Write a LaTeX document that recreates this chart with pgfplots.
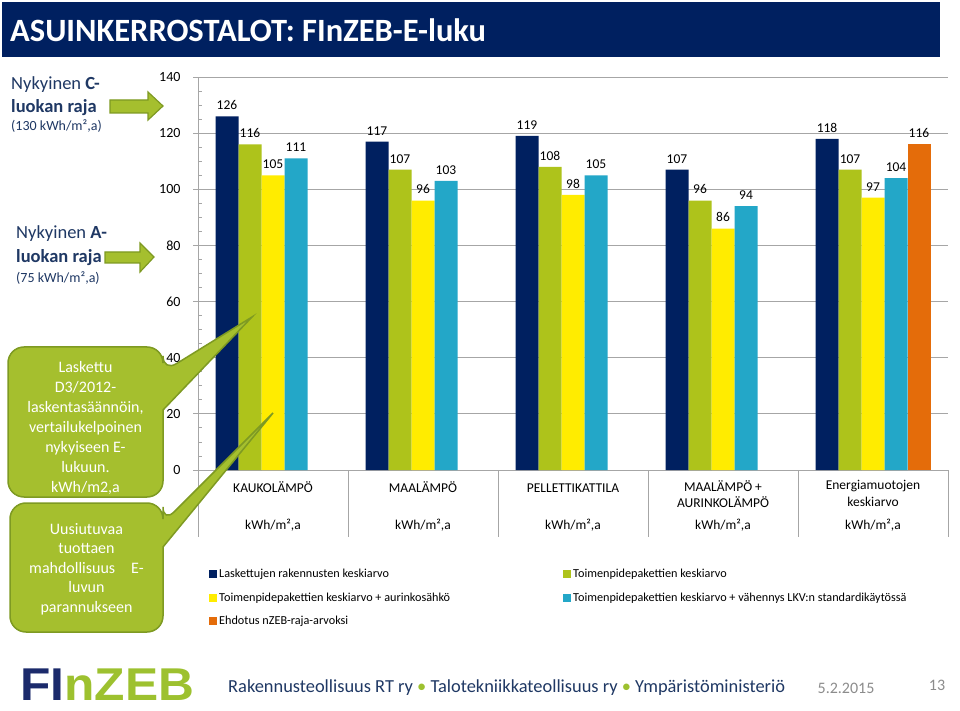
\documentclass[border=0pt]{standalone}
\usepackage{graphicx}
\usepackage{pgfplots}
\pgfplotsset{compat=1.18}
\usepackage{fontspec}
\setmainfont{Carlito}
\newfontfamily\logofont{Liberation Sans}
\definecolor{titlenavy}{HTML}{002060}
\definecolor{snavy}{HTML}{002060}
\definecolor{sgreen}{HTML}{AEC31B}
\definecolor{syellow}{HTML}{FFEC00}
\definecolor{sblue}{HTML}{23A7C8}
\definecolor{sorange}{HTML}{E46C0A}
\definecolor{txtnavy}{HTML}{1F3864}
\definecolor{callfill}{HTML}{A5BF2E}
\definecolor{callborder}{HTML}{7E9A22}
\definecolor{axisgray}{HTML}{A6A6A6}
\definecolor{gridgray}{HTML}{A6A6A6}
\definecolor{footgray}{HTML}{8C8C8C}
\definecolor{logogreen}{HTML}{9DC12F}
\definecolor{logonavy}{HTML}{1B2A6B}
\pgfplotsset{sqleg/.style={legend image code/.code={\fill[##1] (0pt,-4pt) rectangle (8pt,4pt);}}}
\begin{document}
\begin{tikzpicture}[x=1pt,y=1pt]
\useasboundingbox (0,0) rectangle (960,710);
\fill[white] (0,0) rectangle (960,710);
% title bar
\fill[titlenavy] (2,653) rectangle (940,708);
\node[anchor=west, text=white, inner sep=0, font=\fontsize{32.5}{38}\selectfont\bfseries] at (10,680) {ASUINKERROSTALOT: FInZEB-E-luku};

\begin{axis}[
  at={(198pt,240pt)}, anchor=south west,
  scale only axis, width=750pt, height=393pt,
  xmin=-0.5, xmax=4.5, ymin=0, ymax=140,
  enlargelimits=false,
  ybar=0pt, bar width=0.15333,
  axis x line*=bottom, axis y line*=left,
  axis line style={draw=axisgray, line width=0.8pt},
  ytick={0,20,...,140}, minor y tick num=3,
  ymajorgrids, major grid style={draw=gridgray, line width=0.8pt},
  tick align=outside, major tick length=5pt, minor tick length=4pt,
  y tick style={draw=axisgray, line width=0.8pt},
  minor y tick style={xshift=4pt},
  xtick={0,1,2,3,4},
  xticklabels={KAUKOLÄMPÖ, MAALÄMPÖ, PELLETTIKATTILA, {MAALÄMPÖ +\\AURINKOLÄMPÖ}, {Energiamuotojen\\keskiarvo}},
  x tick style={draw=none},
  xticklabel style={align=center, font=\fontsize{13.5}{16.5}\selectfont, anchor=north, yshift=-2pt, execute at begin node={\rule{0pt}{12pt}}},
  yticklabel style={font=\fontsize{14}{16}\selectfont, xshift=-9pt},
  /pgf/number format/assume math mode=true,
  nodes near coords,
  every node near coord/.append style={font=\fontsize{13.5}{16}\selectfont, text=black, yshift=3pt},
  legend columns=2,
  legend style={at={(0.0107,-0.2417)}, anchor=north west, draw=none, fill=none,
    font=\fontsize{12.2}{14}\selectfont, row sep=9.5pt,
    /tikz/every even column/.append style={column sep=0pt}},
  legend cell align=left,
]
\addplot[fill=snavy, draw=none, sqleg] coordinates {(0,126) (1,117) (2,119) (3,107) (4,118)};
\addlegendentry{\makebox[342pt][l]{Laskettujen rakennusten keskiarvo}}
\addplot[fill=sgreen, draw=none, sqleg] coordinates {(0,116) (1,107) (2,108) (3,96) (4,107)};
\addlegendentry{Toimenpidepakettien keskiarvo}
\addplot[fill=syellow, draw=none, sqleg] coordinates {(0,105) (1,96) (2,98) (3,86) (4,97)};
\addlegendentry{\makebox[342pt][l]{Toimenpidepakettien keskiarvo + aurinkosähkö}}
\addplot[fill=sblue, draw=none, sqleg] coordinates {(0,111) (1,103) (2,105) (3,94) (4,104)};
\addlegendentry{Toimenpidepakettien keskiarvo + vähennys LKV:n standardikäytössä}
\addplot[fill=sorange, draw=none, sqleg] coordinates {(4,116)};
\addlegendentry{\makebox[342pt][l]{Ehdotus nZEB-raja-arvoksi}}
\end{axis}

% category box lines
\draw[axisgray, line width=0.8pt] (198,240) -- (198,173);
\foreach \xx in {348,498,648,798,948} {\draw[axisgray, line width=0.8pt] (\xx,240) -- (\xx,173);}
\foreach \xx in {273,423,573,723,873} {\node[font=\fontsize{13.5}{16}\selectfont] at (\xx,185) {kWh/m²,a};}

% left texts
\node[anchor=west, inner sep=0, text=txtnavy, font=\fontsize{18.5}{22}\selectfont] at (11,625) {Nykyinen \textbf{C-}};
\node[anchor=west, inner sep=0, text=txtnavy, font=\fontsize{18.5}{22}\selectfont] at (11,602) {\textbf{luokan raja}};
\node[anchor=west, inner sep=0, text=txtnavy, font=\fontsize{14}{16}\selectfont] at (11,584) {(130 kWh/m²,a)};
\node[anchor=west, inner sep=0, text=txtnavy, font=\fontsize{18.5}{22}\selectfont] at (16,476) {Nykyinen \textbf{A-}};
\node[anchor=west, inner sep=0, text=txtnavy, font=\fontsize{18.5}{22}\selectfont] at (16,452) {\textbf{luokan raja}};
\node[anchor=west, inner sep=0, text=txtnavy, font=\fontsize{14}{16}\selectfont] at (16,432) {(75 kWh/m²,a)};

% arrows
\filldraw[fill=callfill, draw=callborder, line width=1.2pt, line join=miter]
  (110,610) -- (148,610) -- (148,618) -- (163,604) -- (148,590) -- (148,597) -- (110,597) -- cycle;
\filldraw[fill=callfill, draw=callborder, line width=1.2pt, line join=miter]
  (105,458) -- (140,458) -- (140,467) -- (154,453) -- (140,438) -- (140,447) -- (105,447) -- cycle;

% callout 1
\filldraw[fill=callfill, draw=callborder, line width=1.5pt]
  (85,213) [rounded corners=16pt] -- (8,213) -- (8,363) -- (163,363) -- (163,338) [sharp corners] -- (252,393) -- (163,300) [rounded corners=16pt] -- (163,213) -- cycle;
\node[align=center, text=white, font=\fontsize{16}{20}\selectfont] at (85.5,282) {Laskettu\\D3/2012-\\laskentasäännöin,\\vertailukelpoinen\\nykyiseen E-\\lukuun.\\kWh/m2,a};
% callout 2
\filldraw[fill=callfill, draw=callborder, line width=1.5pt]
  (85,78) [rounded corners=16pt] -- (10,78) -- (10,207) -- (163,207) -- (163,187) [sharp corners] -- (273,297) -- (163,163) [rounded corners=16pt] -- (163,78) -- cycle;
\node[align=center, text=white, font=\fontsize{16}{19.5}\selectfont] at (86.5,141) {Uusiutuvaa\\tuottaen\\mahdollisuus\hspace{16pt}E-\\luvun\\parannukseen};

% footer
\node[anchor=base west, inner sep=0, font=\fontsize{46}{52}\logofont\bfseries] at (20,10) {\scalebox{1.08}[1]{\textcolor{logonavy}{FI}\textcolor{logogreen}{nZEB}}};
\node[anchor=west, inner sep=0, text=txtnavy, font=\fontsize{18.4}{21}\selectfont] at (228,22) {Rakennusteollisuus RT ry \textcolor{logogreen}{•} Talotekniikkateollisuus ry \textcolor{logogreen}{•} Ympäristöministeriö};
\node[text=footgray, inner sep=0, font=\fontsize{16}{19}\selectfont] at (846,22) {5.2.2015};
\node[text=footgray, inner sep=0, font=\fontsize{16}{19}\selectfont] at (937,25) {13};
\end{tikzpicture}
\end{document}
